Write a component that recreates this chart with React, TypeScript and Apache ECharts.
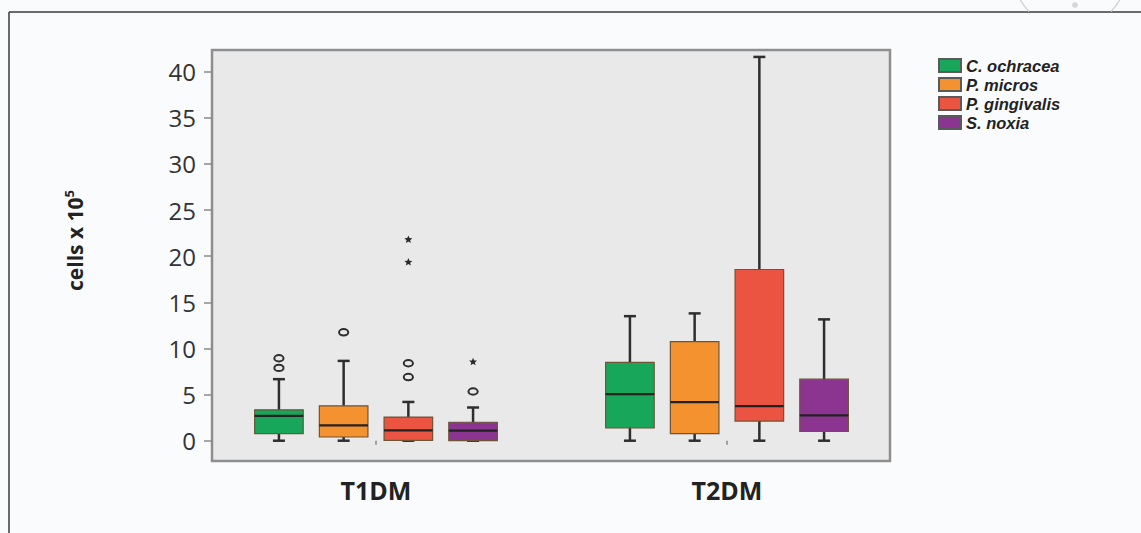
import React, { useEffect, useRef } from "react";
import * as echarts from "echarts";

const groups = ["T1DM", "T2DM"];
const species = ["C. ochracea", "P. micros", "P. gingivalis", "S. noxia"];
const colors = ["#17a65a", "#f4922f", "#eb5441", "#8b3590"];
// each box: [min, q1, median, q3, max]  (cells x 10^5)
const t1dmBoxes = [
  [0, 0.76, 2.7, 3.35, 6.67],
  [0, 0.4, 1.66, 3.78, 8.65],
  [0, 0.03, 1.12, 2.56, 4.2],
  [0, 0, 1.1, 2.0, 3.6],
];
const t2dmBoxes = [
  [0, 1.4, 5.05, 8.5, 13.5],
  [0, 0.76, 4.18, 10.74, 13.8],
  [0, 2.13, 3.75, 18.56, 41.6],
  [0, 1.0, 2.74, 6.67, 13.15],
];
// outliers: [speciesIndex, value, kind]  kind 0 = circle, 1 = star (extreme)
const t1dmOutliers = [
  [0, 8.94, 0],
  [0, 7.89, 0],
  [1, 11.75, 0],
  [2, 8.4, 0],
  [2, 6.9, 0],
  [2, 21.8, 1],
  [2, 19.35, 1],
  [3, 5.33, 0],
  [3, 8.54, 1],
];
const t2dmOutliers: number[][] = [];
const yTicks = [0, 5, 10, 15, 20, 25, 30, 35, 40];
const yMin = -2.2;
const yMax = 42.35;

const PITCH = 0.1985; // fraction of band between neighbouring boxes
const BOX_W = 0.149; // fraction of band for box width
const CAP = 6;

const boxSets = [t1dmBoxes, t2dmBoxes];
const outlierSets = [t1dmOutliers, t2dmOutliers];

function makeBoxRender(s: number) {
  return (params: any, api: any) => {
    const cat = api.value(0);
    const base = api.coord([cat, 0]);
    const band = api.size([1, 0])[0];
    const cx = base[0] + (s - 1.5) * band * PITCH;
    const hw = (band * BOX_W) / 2;
    const y = (i: number) => api.coord([cat, api.value(i)])[1];
    const y0 = y(1),
      y1 = y(2),
      y2 = y(3),
      y3 = y(4),
      y4 = y(5);
    const ws = { stroke: "#2e2e2e", lineWidth: 2.5 };
    return {
      type: "group",
      children: [
        { type: "line", shape: { x1: cx, y1: y4, x2: cx, y2: y0 }, style: ws },
        { type: "line", shape: { x1: cx - CAP, y1: y4, x2: cx + CAP, y2: y4 }, style: ws },
        { type: "line", shape: { x1: cx - CAP, y1: y0, x2: cx + CAP, y2: y0 }, style: ws },
        {
          type: "rect",
          shape: { x: cx - hw, y: y3, width: 2 * hw, height: Math.max(y1 - y3, 0.5) },
          style: { fill: colors[s], stroke: "#6b5638", lineWidth: 1.2 },
        },
        {
          type: "line",
          shape: { x1: cx - hw, y1: y2, x2: cx + hw, y2: y2 },
          style: { stroke: "#222", lineWidth: 2.2 },
        },
      ],
    };
  };
}

function renderOutlier(params: any, api: any) {
  const s = api.value(2);
  const kind = api.value(3);
  const p = api.coord([api.value(0), api.value(1)]);
  const band = api.size([1, 0])[0];
  const cx = p[0] + (s - 1.5) * band * PITCH;
  if (kind === 1) {
    const pts: number[][] = [];
    for (let i = 0; i < 10; i++) {
      const r = i % 2 === 0 ? 4.2 : 1.9;
      const a = -Math.PI / 2 + (i * Math.PI) / 5;
      pts.push([cx + r * Math.cos(a), p[1] + r * Math.sin(a)]);
    }
    return { type: "polygon", shape: { points: pts }, style: { fill: "#2a2a2a" } };
  }
  return {
    type: "ellipse",
    shape: { cx, cy: p[1], rx: 4.6, ry: 3.2 },
    style: { fill: "none", stroke: "#2e2e2e", lineWidth: 2 },
  };
}

export default function App() {
  const ref = useRef<HTMLDivElement>(null);
  useEffect(() => {
    document.body.style.margin = "0";
    const chart = echarts.init(ref.current!, null, { renderer: "svg" });
    const font = "'Open Sans', 'Noto Sans', sans-serif";
    const legendFont = "'Liberation Sans', Arial, sans-serif";
    const gridTop = 50;
    const gridBottom = 72;
    const series: any[] = [];
    groups.forEach((g, gi) => {
      species.forEach((sp, si) => {
        series.push({
          type: "custom",
          name: sp,
          xAxisIndex: gi + 1,
          yAxisIndex: gi + 1,
          itemStyle: { color: colors[si], borderColor: "#5a5a5a", borderWidth: 1 },
          encode: { x: 0, y: [1, 2, 3, 4, 5] },
          data: [[0, ...boxSets[gi][si]]],
          renderItem: makeBoxRender(si),
        });
      });
      series.push({
        type: "custom",
        xAxisIndex: gi + 1,
        yAxisIndex: gi + 1,
        encode: { x: 0, y: 1 },
        data: outlierSets[gi].map((o) => [0, o[1], o[0], o[2]]),
        renderItem: renderOutlier,
      });
    });

    const catAxis = (gi: number) => ({
      type: "category",
      gridIndex: gi + 1,
      data: [groups[gi]],
      axisLine: { show: false },
      axisTick: { show: true, alignWithLabel: true, length: 4, lineStyle: { color: "#888", width: 1.5 } },
      axisLabel: { fontFamily: font, fontSize: 25, fontWeight: "bold", color: "#222", margin: 16 },
      splitLine: { show: false },
    });
    const hiddenY = (gi: number) => ({
      type: "value",
      gridIndex: gi,
      min: yMin,
      max: yMax,
      show: false,
    });

    chart.setOption({
      animation: false,
      backgroundColor: "#fafbfd",
      grid: [
        {
          left: 212,
          right: 1141 - 890,
          top: gridTop,
          bottom: gridBottom,
          show: true,
          backgroundColor: "#e9e9ea",
          borderColor: "#8e8e8e",
          borderWidth: 2.5,
        },
        { left: 213, width: 326, top: gridTop, bottom: gridBottom },
        { left: 564, width: 326, top: gridTop, bottom: gridBottom },
      ],
      xAxis: [{ type: "value", gridIndex: 0, show: false, min: 0, max: 1 }, catAxis(0), catAxis(1)],
      yAxis: [
        {
          type: "value",
          gridIndex: 0,
          min: yMin,
          max: yMax,
          axisLine: { show: false },
          axisTick: {
            show: true,
            length: 8,
            customValues: yTicks,
            lineStyle: { color: "#8a8a8a", width: 1.5 },
          },
          axisLabel: {
            customValues: yTicks,
            fontFamily: font,
            fontSize: 24,
            color: "#333",
            margin: 16,
          },
          splitLine: { show: false },
          name: "cells x 10{sup|5}",
          nameLocation: "middle",
          nameRotate: 90,
          nameGap: 124,
          nameTextStyle: {
            fontFamily: font,
            fontSize: 21,
            fontWeight: "bold",
            color: "#222",
            padding: [0, 0, 0, 30],
            lineHeight: 26,
            rich: {
              sup: { fontFamily: font, fontSize: 13, fontWeight: "bold", color: "#222", verticalAlign: "top", lineHeight: 15 },
            },
          },
        },
        hiddenY(1),
        hiddenY(2),
      ],
      legend: {
        data: species,
        orient: "vertical",
        left: 933,
        top: 51,
        icon: "rect",
        itemWidth: 22,
        itemHeight: 13,
        itemGap: 0,
        textStyle: {
          fontFamily: legendFont,
          fontSize: 16.5,
          fontStyle: "italic",
          fontWeight: "bold",
          color: "#222",
          lineHeight: 19,
          padding: [0, 0, 0, 0],
        },
        selectedMode: false,
      },
      graphic: [
        { type: "line", shape: { x1: 9, y1: 12, x2: 1141, y2: 12 }, style: { stroke: "#3a3a3a", lineWidth: 1.5 } },
        { type: "line", shape: { x1: 9, y1: 12, x2: 9, y2: 533 }, style: { stroke: "#3a3a3a", lineWidth: 1.5 } },
        {
          type: "arc",
          shape: { cx: 1070, cy: -28, r: 57, startAngle: (28 * Math.PI) / 180, endAngle: (44 * Math.PI) / 180 },
          style: { stroke: "#d4d4d4", lineWidth: 1.5, fill: "none" },
        },
        {
          type: "arc",
          shape: { cx: 1070, cy: -28, r: 57, startAngle: (136 * Math.PI) / 180, endAngle: (152 * Math.PI) / 180 },
          style: { stroke: "#d4d4d4", lineWidth: 1.5, fill: "none" },
        },
        { type: "circle", shape: { cx: 1075, cy: 5, r: 3 }, style: { fill: "#d8d8d8" } },
      ],
      series,
    });
    return () => chart.dispose();
  }, []);
  return <div ref={ref} style={{ width: 1141, height: 533 }} />;
}
